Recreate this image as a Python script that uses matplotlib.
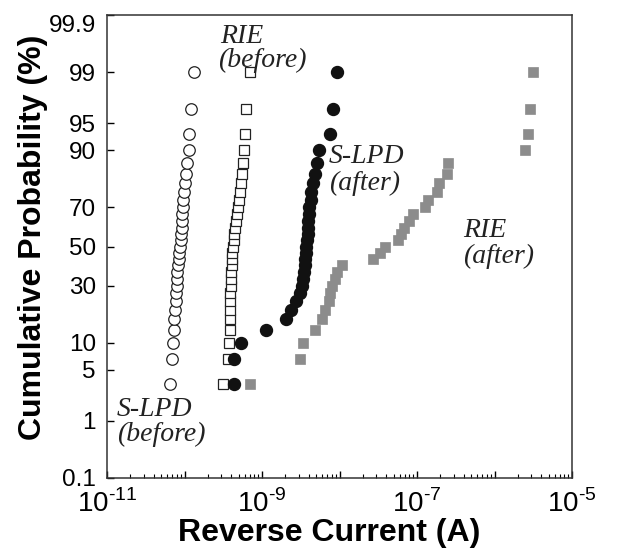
import math
import numpy as np
import matplotlib
matplotlib.use('Agg')
import matplotlib.pyplot as plt
from matplotlib.ticker import FixedLocator, NullLocator, NullFormatter, LogLocator

# cumulative probability (%) of each ranked device, same for every series
prob = [3.3, 6.7, 10.0, 13.3, 16.7, 20.0, 23.3, 26.7, 30.0, 33.3,
        36.7, 40.0, 43.3, 46.7, 50.0, 53.3, 56.7, 60.0, 63.3, 66.7,
        70.0, 73.3, 76.7, 80.0, 83.3, 86.7, 90.0, 93.3, 96.7, 99.0]

# reverse current (A)
slpd_before = [6.5e-11, 6.8e-11, 7.1e-11, 7.3e-11, 7.4e-11, 7.5e-11, 7.7e-11, 7.8e-11, 7.9e-11, 8.0e-11,
               8.1e-11, 8.25e-11, 8.4e-11, 8.6e-11, 8.75e-11, 8.9e-11, 9.0e-11, 9.15e-11, 9.3e-11, 9.4e-11,
               9.6e-11, 9.7e-11, 9.9e-11, 1.01e-10, 1.05e-10, 1.09e-10, 1.13e-10, 1.14e-10, 1.21e-10, 1.33e-10]
rie_before = [3.14e-10, 3.59e-10, 3.75e-10, 3.81e-10, 3.87e-10, 3.87e-10, 3.92e-10, 3.92e-10, 3.98e-10, 3.98e-10,
              4.04e-10, 4.10e-10, 4.10e-10, 4.16e-10, 4.23e-10, 4.29e-10, 4.35e-10, 4.49e-10, 4.62e-10, 4.76e-10,
              4.90e-10, 5.05e-10, 5.20e-10, 5.36e-10, 5.52e-10, 5.69e-10, 5.94e-10, 6.04e-10, 6.22e-10, 6.90e-10]
slpd_after = [4.29e-10, 4.35e-10, 5.36e-10, 1.13e-9, 2.07e-9, 2.40e-9, 2.75e-9, 3.05e-9, 3.28e-9, 3.43e-9,
              3.53e-9, 3.59e-9, 3.64e-9, 3.70e-9, 3.75e-9, 3.81e-9, 3.87e-9, 3.92e-9, 3.98e-9, 4.04e-9,
              4.10e-9, 4.23e-9, 4.35e-9, 4.55e-9, 4.76e-9, 5.05e-9, 5.36e-9, 7.43e-9, 8.24e-9, 9.42e-9]
rie_after = [7.0e-10, 3.09e-9, 3.43e-9, 4.83e-9, 5.94e-9, 6.50e-9, 7.32e-9, 7.54e-9, 8.12e-9, 8.75e-9,
             9.15e-9, 1.09e-8, 2.67e-8, 3.33e-8, 3.87e-8, 5.69e-8, 6.22e-8, 6.80e-8, 7.89e-8, 8.88e-8,
             1.27e-7, 1.39e-7, 1.81e-7, 1.92e-7, 2.44e-7, 2.51e-7, 2.50e-6, 2.71e-6, 2.85e-6, 3.14e-6]

ytick_vals = [0.1, 1, 5, 10, 30, 50, 70, 90, 95, 99, 99.9]
ytick_labels = ['0.1', '1', '5', '10', '30', '50', '70', '90', '95', '99', '99.9']
xtick_vals = [1e-11, 1e-10, 1e-9, 1e-8, 1e-7, 1e-6, 1e-5]
xtick_labels = ['$10^{\u201011}$', '', '$10^{\u20109}$', '', '$10^{\u20107}$', '', '$10^{\u20105}$']


# normal probability (probit) scale for the y axis
def probit(p):
    q = np.clip(np.asarray(p, dtype=float) / 100.0, 1e-9, 1 - 1e-9)
    a = [-3.969683028665376e+01, 2.209460984245205e+02, -2.759285104469687e+02,
         1.383577518672690e+02, -3.066479806614716e+01, 2.506628277459239e+00]
    b = [-5.447609879822406e+01, 1.615858368580409e+02, -1.556989798598866e+02,
         6.680131188771972e+01, -1.328068155288572e+01]
    c = [-7.784894002430293e-03, -3.223964580411365e-01, -2.400758277161838e+00,
         -2.549671010115356e+00, 4.374664141464968e+00, 2.938163982698783e+00]
    d = [7.784695709041462e-03, 3.224671290700398e-01, 2.445134137142996e+00,
         3.754408661907416e+00]
    lo = 0.02425
    out = np.empty_like(q)
    m = (q >= lo) & (q <= 1 - lo)
    r = q[m] - 0.5
    s = r * r
    out[m] = ((((((a[0]*s + a[1])*s + a[2])*s + a[3])*s + a[4])*s + a[5]) * r /
              (((((b[0]*s + b[1])*s + b[2])*s + b[3])*s + b[4])*s + 1))
    for mask, sign, qq in ((q < lo, 1, q), (q > 1 - lo, -1, 1 - q)):
        t = np.sqrt(-2 * np.log(qq[mask]))
        out[mask] = sign * (((((c[0]*t + c[1])*t + c[2])*t + c[3])*t + c[4])*t + c[5]) / \
            ((((d[0]*t + d[1])*t + d[2])*t + d[3])*t + 1)
    return out


def inv_probit(z):
    z = np.asarray(z, dtype=float)
    erf = np.vectorize(math.erf, otypes=[float])
    return 100 * 0.5 * (1 + erf(z / math.sqrt(2)))


plt.rcParams['font.family'] = ['Liberation Sans', 'DejaVu Sans']
plt.rcParams['mathtext.fontset'] = 'custom'
plt.rcParams['mathtext.rm'] = 'Liberation Sans'

fig = plt.figure(figsize=(6.31, 5.52), dpi=100)
ax = fig.add_axes([107/631, 74/552, 465/631, 463/552])

ax.plot(slpd_before, prob, 'o', ms=8.3, mfc='white', mec='#222222', mew=0.9, zorder=3)
ax.plot(rie_before, prob, 's', ms=7.6, mfc='white', mec='#222222', mew=0.9, zorder=3)
ax.plot(rie_after, prob, 's', ms=6.6, mfc='#8c8c8c', mec='#8c8c8c', mew=0.5, zorder=2)
ax.plot(slpd_after, prob, 'o', ms=8.6, mfc='#111111', mec='#111111', zorder=4)

ax.set_xscale('log')
ax.set_xlim(1e-11, 1e-5)
ax.set_yscale('function', functions=(probit, inv_probit))
ax.set_ylim(0.1, 99.9)

ax.set_xticks(xtick_vals)
ax.set_xticklabels(xtick_labels)
ax.xaxis.set_minor_locator(LogLocator(base=10, subs=np.arange(2, 10), numticks=20))
ax.xaxis.set_minor_formatter(NullFormatter())

ax.yaxis.set_major_locator(FixedLocator(ytick_vals))
ax.set_yticklabels(ytick_labels)
ax.yaxis.set_minor_locator(NullLocator())

ax.tick_params(axis='x', which='major', direction='in', length=5, width=1, pad=8,
               labelsize=20, top=False)
ax.tick_params(axis='x', which='minor', direction='in', length=3, width=0.8, top=False)
ax.tick_params(axis='y', which='major', direction='in', length=5, width=1, pad=8,
               labelsize=17.5, right=False)
ax.get_yticklabels()[-1].set_va('top')

for sp in ax.spines.values():
    sp.set_linewidth(1.1)
    sp.set_color('#333333')

ax.set_xlabel('Reverse Current (A)', fontsize=23, fontweight='bold')
ax.xaxis.set_label_coords(0.477, -0.087)
ax.set_ylabel('Cumulative Probability (%)', fontsize=23, fontweight='bold')
ax.yaxis.set_label_coords(-0.127, 0.52)

# curve labels
lab = dict(family=['Liberation Serif', 'DejaVu Serif'], style='italic', fontsize=20,
           transform=ax.transAxes, va='baseline', ha='left', color='#222222')
ax.text(0.243, 0.940, 'RIE', **lab)
ax.text(0.239, 0.887, '(before)', **lab)
ax.text(0.476, 0.680, 'S-LPD', **lab)
ax.text(0.478, 0.622, '(after)', **lab)
ax.text(0.765, 0.521, 'RIE', **lab)
ax.text(0.766, 0.464, '(after)', **lab)
ax.text(0.021, 0.133, 'S-LPD', **lab)
ax.text(0.022, 0.080, '(before)', **lab)

fig.savefig('out.png', dpi=100)
